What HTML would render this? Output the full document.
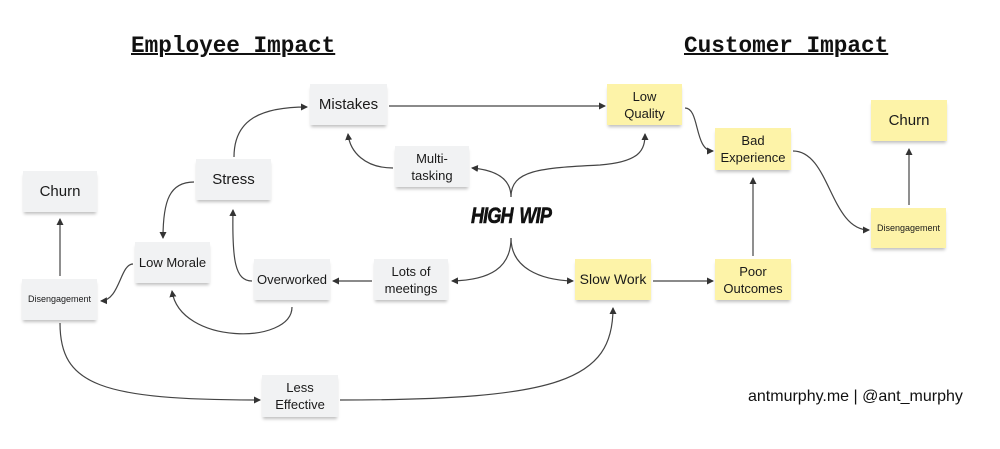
<!DOCTYPE html>
<html><head><meta charset="utf-8"><style>
body{margin:0;width:1000px;height:449px;background:#fff;position:relative;overflow:hidden;font-family:"Liberation Sans","DejaVu Sans",sans-serif;}
.n{position:absolute;display:flex;align-items:center;justify-content:center;text-align:center;color:#1a1a1a;font-size:13px;line-height:17px;background:#f1f2f3;box-shadow:0 3px 3px -1px rgba(0,0,0,0.25);}
.y{background:#fdf3a8;}
.t{position:absolute;font-family:"Liberation Mono",monospace;font-weight:bold;font-size:22.7px;text-decoration:underline;text-decoration-thickness:2px;color:#111;}
svg{position:absolute;left:0;top:0;}
</style></head><body>
<div class="t" style="left:131px;top:33px;">Employee Impact</div>
<div class="t" style="left:684px;top:33px;">Customer Impact</div>

<svg width="1000" height="449" viewBox="0 0 1000 449">
<defs><marker id="a" markerWidth="8" markerHeight="8" refX="6" refY="4" orient="auto" markerUnits="userSpaceOnUse"><path d="M0,0.5 L7,4 L0,7.5 z" fill="#333"/></marker></defs>
<g fill="none" stroke="#444" stroke-width="1.2" marker-end="url(#a)">
<path d="M389,106 L605,106"/>
<path d="M234,157 C234,120 260,107 307,107"/>
<path d="M393,168 C365,168 350,152 348,134"/>
<path d="M511,197 C511,178 495,170 472,168"/>
<path d="M511,197 C511,170 540,168 600,165 C640,162 645,150 645,134"/>
<path d="M511,238 C511,268 490,280 452,281"/>
<path d="M511,238 C511,268 540,280 573,281"/>
<path d="M372,281 L333,281"/>
<path d="M252,281 C235,281 232,260 233,210"/>
<path d="M194,182 C170,182 163,200 163,238"/>
<path d="M292,307 C292,345 180,345 172,291"/>
<path d="M133,264 C120,264 120,300 101,301"/>
<path d="M60,276 L60,219"/>
<path d="M60,323 C60,385 100,400 260,400"/>
<path d="M340,400 C560,400 613,380 613,308"/>
<path d="M653,281 L713,281"/>
<path d="M753,256 L753,178"/>
<path d="M685,108 C700,108 694,151 713,151"/>
<path d="M793,151 C830,151 830,230 869,230"/>
<path d="M909,205 L909,149"/>
</g>
</svg>

<div class="n" style="left:310px;top:84px;width:77px;height:41px;font-size:15px;">Mistakes</div>
<div class="n" style="left:395px;top:146px;width:74px;height:41px;">Multi-<br>tasking</div>
<div class="n" style="left:196px;top:159px;width:75px;height:41px;font-size:15px;">Stress</div>
<div class="n" style="left:23px;top:171px;width:74px;height:41px;font-size:15px;">Churn</div>
<div class="n" style="left:135px;top:242px;width:75px;height:41px;">Low Morale</div>
<div class="n" style="left:254px;top:259px;width:76px;height:41px;">Overworked</div>
<div class="n" style="left:374px;top:259px;width:74px;height:41px;">Lots of<br>meetings</div>
<div class="n" style="left:22px;top:279px;width:75px;height:41px;font-size:9px;">Disengagement</div>
<div class="n" style="left:262px;top:375px;width:76px;height:42px;">Less<br>Effective</div>

<div class="n y" style="left:607px;top:84px;width:75px;height:41px;">Low<br>Quality</div>
<div class="n y" style="left:715px;top:128px;width:76px;height:42px;">Bad<br>Experience</div>
<div class="n y" style="left:871px;top:100px;width:76px;height:41px;font-size:15px;">Churn</div>
<div class="n y" style="left:871px;top:208px;width:75px;height:40px;font-size:9px;">Disengagement</div>
<div class="n y" style="left:575px;top:259px;width:76px;height:41px;font-size:14px;">Slow Work</div>
<div class="n y" style="left:715px;top:259px;width:76px;height:41px;">Poor<br>Outcomes</div>

<div style="position:absolute;left:461px;top:203px;width:100px;text-align:center;font-family:'Liberation Sans',sans-serif;font-weight:900;font-style:italic;font-size:22px;letter-spacing:-1px;word-spacing:3px;transform:scaleX(0.82);color:#111;-webkit-text-stroke:0.6px #111;">HIGH WIP</div>
<div style="position:absolute;left:748px;top:388px;font-size:16px;color:#111;">antmurphy.me | @ant_murphy</div>
</body></html>
